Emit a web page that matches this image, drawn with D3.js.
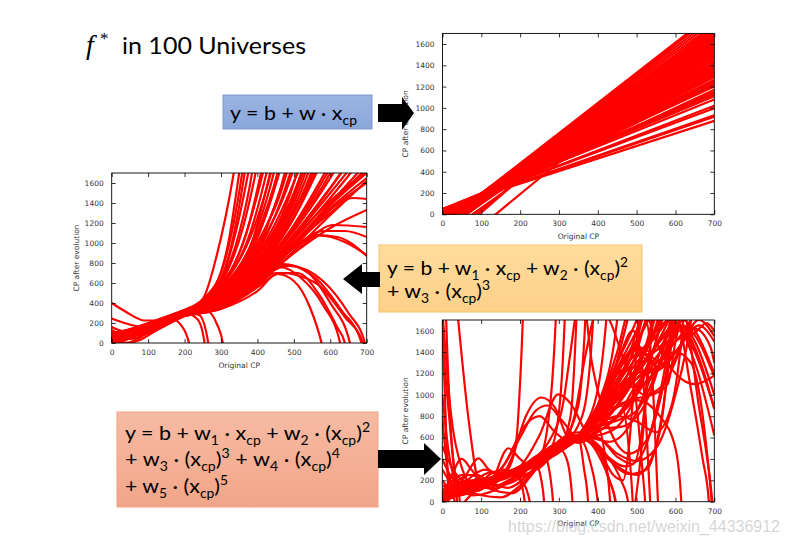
<!DOCTYPE html>
<html><head><meta charset="utf-8">
<script src="https://cdn.jsdelivr.net/npm/d3@7"></script>
<style>body{margin:0;background:#fff} svg{display:block}</style>
</head><body><svg id="c" width="788" height="544"></svg>
<script>
const xTicks = [0,100,200,300,400,500,600,700];
const yTicks = [0,200,400,600,800,1000,1200,1400,1600];
const xLabel = "Original CP";
const yLabel = "CP after evolution";
const titleText = "in 100 Universes";
const watermark = "https://blog.csdn.net/weixin_44336912";

// Linear model: each line as [y at x=0, y at x=700]
const linearLines = [
[52,878],[50,918],[48,930],[45,997],[40,1020],[50,1079],[45,1109],[40,1125],[35,1141],[30,1150],
[25,1201],[20,1224],[15,1240],[10,1256],[5,1265],[5,1300],[0,1316],[-5,1325],[-2,1356],[-10,1369],
[-5,1395],[-15,1406],[-10,1432],[-25,1438],[-25,1487],[-30,1510],[-30,1538],[-35,1561],[-40,1584],
[-40,1612],[-45,1635],[-50,1658],[-55,1681],[-55,1709],[-60,1732],[-65,1755],[-70,1785],[-75,1815],
[-80,1845],[-85,1875],[-90,1898],
[-120,1490],[-150,1600],[-200,1620],[-250,1780],[-90,1470],[-70,1330],[-40,1220],[-20,1170],[-170,1720],
[-100,1580],[-50,1420],[-30,1300],[-120,1665],[-300,1920],[-411,1689],
[-20,1460],[-28,1475],[-35,1500],[-45,1525],[-50,1545],[-58,1570],[-62,1595],[-68,1620],[-72,1640],
[-78,1665],[-82,1690],[-88,1720],[-95,1750],[12,1210],[2,1240],[-8,1290],[-18,1340],[-22,1380],
[-35,1415],[-40,1430]
];

// Cubic model: each curve as [x, y] points
const cubicCurves = [
[[0,400],[40,310],[90,225],[150,230],[200,290],[250,380],[300,470],[400,800],[500,1400],[560,2000]],
[[0,245],[40,195],[80,165],[150,210],[200,290],[300,450],[400,780],[480,1300],[540,1900]],
[[0,160],[30,120],[80,110],[150,200],[200,280],[300,420],[400,720],[500,1250],[600,2000]],
[[0,130],[40,70],[90,90],[150,190],[200,270],[300,400],[400,650],[500,1080],[600,1550],[700,2050]],
[[0,100],[50,40],[100,100],[200,280],[300,430],[400,700],[500,1150],[600,1750]],
[[0,60],[30,0],[70,20],[120,120],[200,270],[300,410],[400,640],[500,990],[600,1380],[700,1750]],
[[0,-40],[40,-10],[80,60],[150,200],[200,280],[300,390],[400,600],[500,920],[600,1280],[700,1620]],
[[0,20],[30,-30],[60,10],[100,120],[200,290],[300,440],[400,740],[500,1300],[580,2000]],
[[0,60],[100,180],[200,320],[250,440],[290,900],[335,1700],[360,2300]],
[[0,30],[100,160],[200,300],[270,480],[320,1000],[350,1700],[370,2200]],
[[0,20],[100,150],[200,300],[300,640],[340,1100],[380,1800],[400,2200]],
[[0,10],[100,140],[200,290],[300,600],[360,1150],[395,1700],[420,2200]],
[[0,40],[100,170],[200,320],[300,580],[370,1100],[410,1700],[440,2200]],
[[0,0],[100,150],[200,310],[300,560],[380,1100],[425,1700],[450,2100]],
[[0,50],[100,180],[200,330],[300,540],[400,1150],[445,1700],[470,2100]],
[[0,20],[100,160],[200,310],[300,520],[400,1050],[460,1700],[490,2100]],
[[0,-10],[100,140],[200,300],[300,510],[400,980],[475,1700],[500,2100]],
[[0,30],[100,170],[200,320],[300,500],[400,900],[490,1700],[520,2100]],
[[0,60],[100,190],[200,330],[300,490],[400,860],[500,1600],[530,2000]],
[[0,10],[100,150],[200,300],[300,470],[400,820],[500,1450],[550,2000]],
[[0,-20],[100,130],[200,290],[300,460],[400,780],[500,1350],[560,1900]],
[[0,40],[100,180],[200,320],[300,450],[400,750],[500,1250],[580,1900]],
[[0,80],[100,200],[200,330],[300,440],[400,720],[500,1180],[600,1800]],
[[0,20],[100,160],[200,300],[300,430],[400,700],[500,1120],[600,1650],[700,2300]],
[[0,0],[100,150],[200,290],[300,420],[400,680],[500,1080],[600,1550],[700,2100]],
[[0,50],[100,180],[200,310],[300,420],[400,660],[500,1030],[600,1450],[700,1900]],
[[0,30],[100,170],[200,300],[300,410],[400,640],[500,990],[600,1380],[700,1700]],
[[0,15],[100,150],[200,295],[280,500],[330,1000],[365,1700],[385,2200]],
[[0,45],[100,175],[200,315],[300,560],[360,1000],[415,1700],[440,2100]],
[[0,25],[100,160],[200,305],[300,530],[380,950],[435,1700],[460,2100]],
[[0,-5],[100,145],[200,300],[300,500],[400,930],[470,1600],[500,1900]],
[[0,35],[100,165],[200,300],[300,480],[400,850],[500,1500],[540,1900]],
[[0,10],[100,155],[200,295],[300,455],[400,760],[500,1300],[570,1850]],
[[0,70],[100,185],[200,325],[260,470],[300,700],[340,1300],[360,1750],[375,2200]],
[[0,5],[100,140],[200,290],[300,620],[350,1100],[385,1700],[400,2100]],
[[0,55],[100,180],[200,320],[300,560],[400,1250],[440,1750],[460,2100]],
[[0,-15],[100,135],[200,295],[300,520],[400,1100],[455,1700],[480,2100]],
[[0,35],[100,165],[200,315],[300,500],[400,1000],[480,1700],[500,2000]],
[[0,15],[100,150],[200,305],[300,480],[400,940],[500,1750],[520,2000]],
[[0,45],[100,175],[200,310],[300,470],[400,880],[510,1700],[540,2000]],
[[0,-30],[100,125],[200,285],[300,440],[400,800],[520,1650],[560,2000]],
[[0,25],[100,160],[200,300],[300,430],[400,740],[520,1450],[600,2000]],
[[0,65],[100,190],[200,315],[300,420],[400,690],[500,1150],[600,1700],[640,2000]],
[[0,0],[100,145],[200,285],[300,400],[400,670],[500,1060],[600,1500],[700,1950]],
[[0,40],[100,170],[200,305],[300,395],[400,630],[500,1000],[600,1400],[700,1800]],
[[0,20],[100,155],[200,290],[300,385],[400,620],[500,960],[600,1330],[700,1600]],
[[0,30],[100,160],[200,280],[300,380],[400,620],[500,980],[600,1300],[660,1450],[700,1440]],
[[0,60],[100,180],[200,300],[300,380],[400,600],[500,900],[600,1150],[700,1330]],
[[0,20],[100,150],[200,280],[300,370],[400,590],[500,900],[610,1180],[700,1160]],
[[0,30],[100,160],[200,285],[300,375],[400,600],[500,950],[580,1120],[640,1120],[700,1060]],
[[0,50],[100,170],[200,290],[300,370],[400,620],[500,960],[560,1080],[620,1060],[700,870]],
[[0,40],[100,165],[200,285],[300,365],[400,610],[500,950],[570,1075],[640,1010],[700,880]],
[[0,25],[100,155],[200,290],[300,400],[400,650],[500,1000],[600,1350],[700,1650]],
[[0,45],[100,170],[200,300],[300,410],[400,680],[500,1050],[600,1420],[700,1720]],
[[0,30],[100,160],[200,270],[300,340],[400,520],[455,690],[500,620],[545,350],[576,0],[585,-150]],
[[0,20],[100,150],[200,270],[300,350],[400,560],[462,760],[520,650],[580,380],[627,0],[635,-150]],
[[0,50],[100,170],[200,290],[300,370],[400,620],[470,790],[540,700],[600,400],[654,0],[662,-150]],
[[0,10],[100,150],[200,280],[300,360],[400,600],[480,780],[560,650],[630,330],[686,0],[694,-150]],
[[0,40],[100,160],[200,290],[300,380],[400,640],[490,770],[580,620],[650,300],[695,0],[703,-150]],
[[0,0],[100,140],[200,270],[300,345],[400,560],[465,700],[560,600],[640,260],[690,0],[698,-150]],
[[0,15],[100,150],[200,275],[300,350],[400,580],[450,700],[510,700],[570,480],[620,150],[640,0],[648,-150]],
[[0,80],[100,170],[160,250],[190,180],[212,0],[220,-200]],
[[0,40],[100,160],[200,300],[235,240],[255,0],[262,-200]],
[[0,100],[100,180],[200,310],[240,280],[265,0],[272,-200]],
[[0,60],[100,170],[200,310],[260,320],[290,180],[305,0],[312,-200]]
];

// Quintic model: each curve as [x, y] points
const quinticCurves = [
[[0,1800],[20,900],[50,320],[80,150],[120,130],[170,200],[220,330],[280,470],[350,600],[400,750],[450,950],[500,1200],[560,1500],[610,1700],[640,1900]],
[[0,3500],[41,1700],[70,700],[97,150],[130,120],[180,200],[230,330],[300,490],[350,600],[400,780],[480,1100],[540,1400],[590,1750]],
[[0,1700],[8,850],[16,0],[24,-600]],
[[0,1500],[20,700],[38,0],[48,-500]],
[[0,3000],[10,1700],[25,500],[45,0],[55,-500]],
[[0,800],[10,400],[25,100],[40,-50],[70,50],[100,150],[200,290],[300,480],[350,600],[400,820],[450,1100],[500,1600],[520,1900]],
[[0,520],[25,320],[55,190],[100,150],[150,200],[200,280],[260,400],[300,470],[350,600],[400,850],[440,1200],[480,1750]],
[[0,60],[100,180],[160,260],[188,500],[200,1100],[207,1700],[212,2400]],
[[0,40],[100,170],[170,290],[205,200],[225,0],[232,-400]],
[[0,30],[100,160],[180,290],[200,200],[212,0],[218,-400]],
[[0,50],[100,170],[200,300],[240,350],[255,200],[262,0],[268,-400]],
[[0,40],[100,160],[200,320],[260,450],[275,300],[285,0],[292,-400]],
[[0,20],[100,150],[200,300],[300,500],[320,400],[335,0],[340,-400]],
[[0,60],[100,170],[200,310],[300,520],[350,600],[365,300],[375,0],[380,-400]],
[[0,30],[100,160],[200,300],[300,500],[350,620],[400,700],[420,400],[432,0],[438,-400]],
[[0,20],[60,200],[120,150],[180,420],[215,800],[255,975],[290,880],[320,620],[350,550],[400,650],[450,800],[500,1050],[550,1450],[600,1650],[650,1400],[700,870]],
[[0,60],[100,170],[200,330],[250,620],[298,1005],[330,920],[370,650],[420,440],[470,330],[510,420],[550,850],[580,1400],[600,1900]],
[[0,30],[100,170],[150,300],[200,600],[240,850],[270,900],[310,750],[350,600],[400,620],[450,700],[500,1000],[550,1500],[575,1900]],
[[0,40],[100,160],[160,350],[210,700],[250,800],[290,650],[330,560],[380,620],[430,800],[480,1100],[530,1500],[560,1900]],
[[0,20],[100,150],[200,290],[250,400],[280,1000],[292,1700],[300,2400]],
[[0,0],[90,140],[200,280],[280,500],[302,900],[315,1700],[322,2400]],
[[0,50],[100,170],[200,300],[300,500],[330,800],[345,1700],[352,2400]],
[[0,30],[100,160],[200,300],[300,520],[350,900],[368,1700],[376,2400]],
[[0,80],[100,190],[200,310],[300,500],[360,800],[388,1700],[396,2400]],
[[0,10],[100,150],[200,290],[300,480],[380,800],[422,1700],[432,2300]],
[[0,45],[100,175],[200,310],[300,500],[350,620],[400,900],[450,1700],[462,2200]],
[[0,40],[100,160],[200,300],[300,520],[350,600],[380,380],[400,0],[410,-400]],
[[0,25],[80,150],[150,250],[250,420],[350,650],[400,500],[430,200],[445,0],[452,-300]],
[[0,70],[100,200],[200,320],[300,560],[350,620],[420,450],[460,200],[478,0],[486,-300]],
[[0,30],[100,160],[200,310],[300,500],[350,600],[400,500],[450,330],[500,250],[540,420],[570,900],[590,1700],[598,2200]],
[[0,50],[100,180],[200,300],[300,480],[350,610],[420,420],[480,260],[525,300],[560,700],[590,1500],[602,1900]],
[[0,0],[100,150],[200,300],[300,470],[350,620],[420,800],[460,900],[480,500],[490,0],[495,-400]],
[[0,60],[100,170],[200,310],[300,500],[350,620],[400,450],[440,100],[460,-150],[490,-100],[510,400],[525,1000],[540,1700],[548,2300]],
[[0,10],[100,150],[200,290],[300,480],[350,600],[400,500],[440,250],[465,200],[480,500],[495,1200],[505,1700],[512,2300]],
[[0,40],[100,160],[200,300],[300,490],[350,610],[400,600],[450,420],[490,350],[515,700],[530,1300],[540,1700],[548,2200]],
[[0,20],[100,150],[200,300],[300,480],[350,600],[400,900],[450,1300],[490,1600],[510,1400],[525,700],[535,0],[540,-400]],
[[0,60],[100,170],[200,310],[300,500],[350,620],[400,850],[440,1150],[480,1250],[500,900],[515,300],[522,0],[528,-400]],
[[0,30],[100,160],[200,300],[300,480],[350,600],[420,800],[480,950],[540,1000],[580,1100],[600,1500],[612,1750],[620,2200]],
[[0,50],[100,170],[200,300],[300,500],[350,620],[400,780],[450,900],[500,950],[560,800],[600,500],[615,0],[620,-400]],
[[0,10],[100,150],[200,290],[300,470],[350,590],[400,720],[450,800],[500,750],[550,650],[590,900],[615,1500],[625,1900]],
[[0,20],[100,150],[200,300],[300,480],[350,620],[400,850],[450,1150],[500,1370],[550,1300],[600,1500],[640,1700],[660,1900]],
[[0,40],[100,170],[200,310],[300,490],[350,600],[400,780],[460,1050],[520,1100],[570,1350],[610,1650],[640,1600],[700,1170]],
[[0,10],[100,160],[200,300],[300,500],[350,620],[400,800],[450,1000],[500,1250],[560,1450],[610,1650],[660,1350],[700,870]],
[[0,60],[100,180],[200,320],[300,510],[350,610],[400,820],[460,1200],[510,1400],[560,1250],[610,1600],[650,1300],[700,620]],
[[0,20],[100,150],[200,290],[300,470],[350,590],[400,760],[500,1150],[550,1250],[600,1500],[650,1580],[680,1670],[700,1600]],
[[0,40],[100,170],[200,300],[300,480],[350,600],[400,850],[450,1200],[500,1420],[540,1350],[580,1250],[620,1500],[660,1700],[700,1550]],
[[0,30],[100,160],[200,300],[300,490],[350,610],[400,800],[450,1050],[500,1200],[550,1250],[600,1400],[650,1620],[690,1450],[700,1300]],
[[0,20],[100,150],[200,300],[300,500],[350,620],[400,880],[460,1300],[500,1450],[540,1400],[580,1500],[620,1650],[650,1500],[700,1000]],
[[0,60],[100,180],[200,310],[300,490],[350,600],[400,750],[450,950],[500,1150],[550,1350],[600,1600],[620,1700],[650,1600],[700,1200]],
[[0,50],[100,170],[200,300],[300,490],[350,600],[400,820],[500,1300],[560,1600],[600,1750],[640,1050],[670,400],[686,0],[690,-300]],
[[0,30],[100,160],[200,310],[300,500],[350,620],[400,850],[500,1350],[580,1700],[620,1750],[660,900],[695,0],[700,-200]],
[[0,60],[100,170],[200,330],[300,520],[350,620],[400,700],[450,800],[500,1100],[550,1300],[600,1400],[640,1300],[680,500],[693,0],[698,-300]],
[[0,30],[100,160],[200,300],[300,480],[350,610],[400,880],[450,1250],[500,1600],[520,1750],[540,1200],[555,0],[560,-400]],
[[0,40],[100,170],[200,300],[300,470],[350,600],[400,900],[450,1400],[480,1800],[510,1900],[550,1500],[600,1200],[650,1100],[700,1180]],
[[0,10],[100,140],[200,280],[300,460],[350,580],[420,700],[480,900],[530,1150],[580,1300],[620,1500],[660,1650],[700,1500]],
[[0,50],[100,170],[200,300],[300,480],[350,620],[400,600],[450,450],[500,380],[550,500],[600,1000],[640,1700],[650,2000]],
[[0,30],[100,170],[200,310],[300,500],[340,800],[370,1400],[400,1800],[430,1700],[470,1300],[520,1000],[570,1100],[620,1500],[650,1800]],
[[0,0],[25,250],[50,400],[75,300],[100,200],[150,220],[200,310],[300,480],[350,600],[400,800],[500,1250],[560,1700],[580,1900]],
[[0,80],[40,200],[60,250],[93,405],[120,300],[160,230],[200,300],[250,420],[300,500],[350,600],[400,700],[450,900],[500,1200],[540,1700],[550,1900]],
[[0,-100],[30,100],[70,250],[120,180],[170,130],[220,250],[270,450],[320,560],[350,620],[400,700],[450,760],[500,850],[550,1200],[600,1700],[620,2000]],
[[0,300],[30,150],[70,100],[120,150],[170,500],[200,400],[240,300],[280,420],[350,620],[420,1000],[480,1400],[530,1700],[550,1900]],
[[0,150],[50,120],[100,60],[150,40],[200,150],[250,350],[300,500],[350,600],[400,700],[450,900],[500,1250],[550,1650],[570,1900]],
[[0,-50],[40,150],[80,200],[130,110],[180,80],[230,250],[280,500],[330,620],[380,600],[430,560],[480,700],[530,1100],[580,1600],[600,1800]],
[[0,1000],[15,500],[40,150],[80,60],[130,100],[200,260],[300,460],[350,600],[420,900],[480,1300],[530,1750]],
[[0,0],[40,100],[80,250],[110,300],[150,250],[200,280],[260,450],[300,520],[350,610],[400,900],[450,1300],[500,1700],[520,1900]],
[[0,100],[30,200],[60,150],[90,100],[130,200],[170,280],[200,250],[240,300],[300,480],[350,600],[400,760],[450,1000],[500,1400],[530,1800]],
[[0,-200],[20,100],[50,250],[90,250],[140,150],[190,200],[230,350],[280,500],[350,620],[400,750],[450,800],[500,1050],[550,1500],[580,1900]],
[[0,400],[20,250],[50,150],[90,220],[130,280],[170,250],[210,300],[260,420],[310,520],[350,600],[400,680],[460,700],[520,900],[560,1300],[600,1900]],
[[0,200],[40,60],[80,100],[120,250],[160,300],[200,230],[250,330],[300,500],[350,600],[400,800],[450,1100],[500,1500],[520,1800]],
[[0,30],[100,170],[200,320],[280,600],[310,900],[330,1400],[345,1750],[365,1800],[385,1300],[410,900],[440,600],[480,450],[530,600],[570,1100],[600,1700]]
];

const svg = d3.select("#c");
const defs = svg.append("defs");
const gradDefs = [["gBlue","#9bb4e2","#8aa6da"],["gOrange","#ffdc9c","#fdd089"],["gSalmon","#f6bba3","#f2a588"]];
gradDefs.forEach(([id,c1,c2])=>{
  const lg = defs.append("linearGradient").attr("id",id).attr("x1",0).attr("y1",0).attr("x2",0).attr("y2",1);
  lg.append("stop").attr("offset","0%").attr("stop-color",c1);
  lg.append("stop").attr("offset","100%").attr("stop-color",c2);
});

// Title
const title = svg.append("text").attr("y",54).attr("fill","#000");
title.append("tspan").attr("x",86).attr("font-family","Liberation Serif").attr("font-style","italic").attr("font-size",28).text("f");
title.append("tspan").attr("x",100).attr("dy",-10).attr("font-family","Liberation Serif").attr("font-size",17).text("*");
svg.append("text").attr("x",122).attr("y",54).attr("font-family","Lato").attr("font-size",23)
  .attr("textLength",184).attr("lengthAdjust","spacingAndGlyphs").text(titleText);

// Equation boxes
function box(x,y,w,h,fill,stroke){
  svg.append("rect").attr("x",x).attr("y",y).attr("width",w).attr("height",h)
    .attr("fill",`url(#${fill})`).attr("stroke",stroke).attr("stroke-width",1);
}
box(223,95,149,34,"gBlue","#7b97cf");
box(379,245,263,67,"gOrange","#f6c46c");
box(117,412,261,95,"gSalmon","#f0a283");

function eq(x,y,len,segs){
  const t = svg.append("text").attr("x",x).attr("y",y).attr("font-family","Lato").attr("font-size",20).attr("fill","#000")
    .attr("textLength",len).attr("lengthAdjust","spacingAndGlyphs");
  let shift = 0;
  segs.forEach(s=>{
    let target = s[1]==="sub"?5:(s[1]==="sup"?-8:0);
    const ts = t.append("tspan").attr("dy",target-shift).text(s[0]);
    if(s[1]) ts.attr("font-size",13);
    shift = target;
  });
}
const L1 = [["y = b + w"],["1","sub"],[" · x"],["cp","sub"],[" + w"],["2","sub"],[" · (x"],["cp","sub"],[")"],["2","sup"]];
eq(230,120,127,[["y = b + w · x"],["cp","sub"]]);
eq(387,275,241,L1);
eq(387,298,103,[["+ w"],["3","sub"],[" · (x"],["cp","sub"],[")"],["3","sup"]]);
eq(125,440,245,L1);
eq(125,466,215,[["+ w"],["3","sub"],[" · (x"],["cp","sub"],[")"],["3","sup"],[" + w"],["4","sub"],[" · (x"],["cp","sub"],[")"],["4","sup"]]);
eq(125,493,103,[["+ w"],["5","sub"],[" · (x"],["cp","sub"],[")"],["5","sup"]]);

// Panels
function panel(id, px0, px1, pyB, pyT, labX, curves, curveType){
  const x = d3.scaleLinear().domain([0,700]).range([px0,px1]);
  const y = d3.scaleLinear().domain([0,1700]).range([pyB,pyT]);
  const g = svg.append("g");
  defs.append("clipPath").attr("id",id).append("rect")
    .attr("x",px0).attr("y",pyT).attr("width",px1-px0).attr("height",pyB-pyT);
  const line = d3.line().x(d=>x(d[0])).y(d=>y(d[1])).curve(curveType);
  g.append("g").attr("clip-path",`url(#${id})`).selectAll("path").data(curves).join("path")
    .attr("d",line).attr("fill","none").attr("stroke","#ff0000").attr("stroke-width",2.2).attr("stroke-linejoin","round");
  const font = (sel)=>sel.selectAll("text").attr("font-family","DejaVu Sans").attr("font-size",7.5).attr("fill","#333");
  const fmt = d3.format("d");
  const ax = g.append("g").attr("transform",`translate(0,${pyB})`).call(d3.axisBottom(x).tickValues(xTicks).tickFormat(fmt).tickSize(-4).tickSizeOuter(0).tickPadding(6.5));
  font(ax);
  const axT = g.append("g").attr("transform",`translate(0,${pyT})`).call(d3.axisTop(x).tickValues(xTicks).tickSize(-4).tickSizeOuter(0).tickFormat(""));
  const ay = g.append("g").attr("transform",`translate(${px0},0)`).call(d3.axisLeft(y).tickValues(yTicks).tickFormat(fmt).tickSize(-4).tickSizeOuter(0).tickPadding(8));
  font(ay);
  const ayR = g.append("g").attr("transform",`translate(${px1},0)`).call(d3.axisRight(y).tickValues(yTicks).tickSize(-4).tickSizeOuter(0).tickFormat(""));
  [ax,axT,ay,ayR].forEach(a=>{a.selectAll("line").attr("stroke","#000").attr("stroke-width",0.8); a.select(".domain").remove();});
  g.append("rect").attr("x",px0).attr("y",pyT).attr("width",px1-px0).attr("height",pyB-pyT)
    .attr("fill","none").attr("stroke","#000").attr("stroke-width",0.9);
  g.append("text").attr("x",(px0+px1)/2).attr("y",pyB+24.5).attr("text-anchor","middle")
    .attr("font-family","DejaVu Sans").attr("font-size",7.5).attr("fill","#333").text(xLabel);
  g.append("text").attr("transform",`translate(${labX},${(pyB+pyT)/2}) rotate(-90)`).attr("text-anchor","middle")
    .attr("dominant-baseline","central").attr("font-family","DejaVu Sans").attr("font-size",7.5).attr("fill","#333").text(yLabel);
}
panel("cp1",442.5,714.3,214.3,33.4,405,linearLines.map(d=>[[0,d[0]],[700,d[1]]]),d3.curveLinear);
panel("cp2",111.7,366.7,343,173,76,cubicCurves,d3.curveMonotoneX);
panel("cp3",442.3,714.3,501.7,320,405,quinticCurves,d3.curveMonotoneX);

// Arrows
const arrows = [
  [[378,104],[402,104],[402,97],[414,113],[402,130],[402,122],[378,122]],
  [[380,272],[362,272],[362,264],[343,279],[362,294],[362,287],[380,287]],
  [[378,450],[424,450],[424,443],[441,459],[424,475],[424,468],[378,468]]
];
svg.selectAll("polygon.arr").data(arrows).join("polygon").attr("class","arr")
  .attr("points",d=>d.map(p=>p.join(",")).join(" ")).attr("fill","#000");

// Watermark
svg.append("text").attr("x",508).attr("y",532).attr("font-family","Liberation Sans").attr("font-size",17)
  .attr("textLength",272).attr("lengthAdjust","spacingAndGlyphs")
  .attr("fill","#c8c8c8").attr("fill-opacity",0.75).text(watermark);
</script></body></html>
